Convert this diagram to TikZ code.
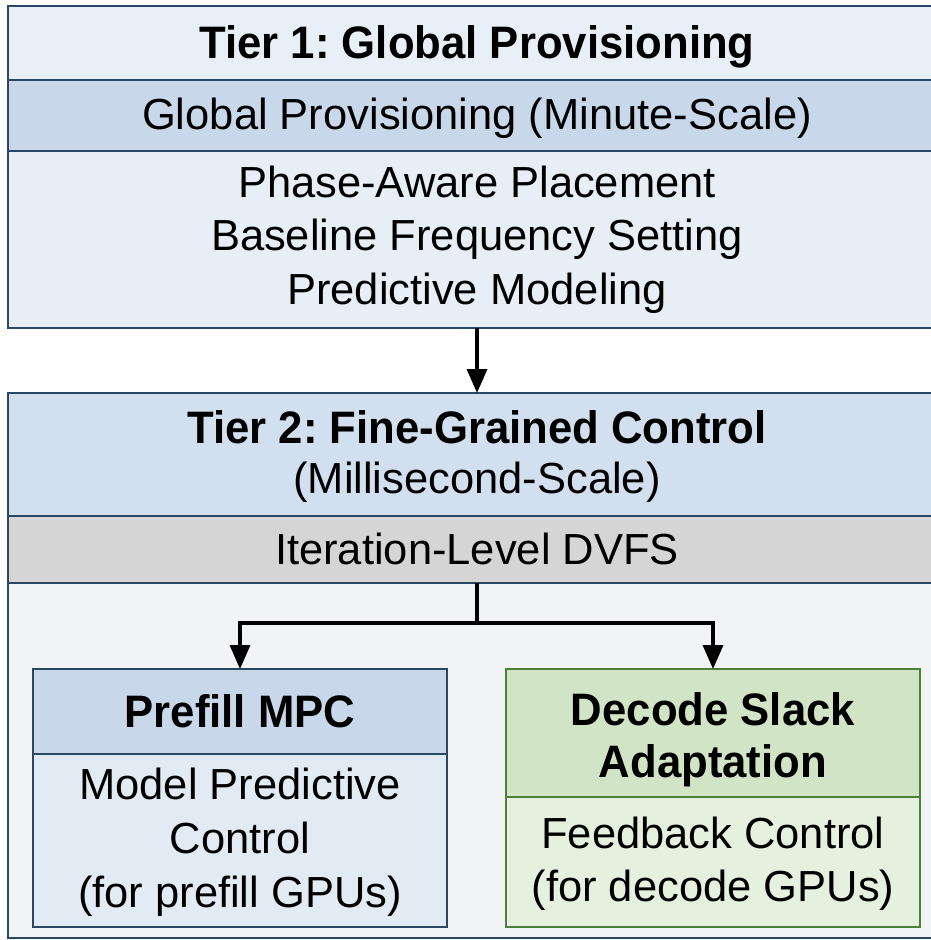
\documentclass[tikz,border=0pt]{standalone}
\usepackage{fontspec}
\setmainfont{Liberation Sans}
\newfontfamily\boldnarrow{Liberation Sans Bold}[FakeStretch=0.96]
\usetikzlibrary{arrows.meta}
\definecolor{bdr}{HTML}{2A4766}
\definecolor{gbdr}{HTML}{4E7F3A}
\definecolor{tonetitle}{HTML}{E9EFF6}
\definecolor{tonesub}{HTML}{C8D7E9}
\definecolor{tonebody}{HTML}{E7EEF6}
\definecolor{ttwotitle}{HTML}{D2DFEE}
\definecolor{ttwodvfs}{HTML}{D5D5D5}
\definecolor{ttwobody}{HTML}{F2F3F4}
\definecolor{prehead}{HTML}{C8D7EA}
\definecolor{prebody}{HTML}{E2EAF4}
\definecolor{dechead}{HTML}{D2E4C6}
\definecolor{decbody}{HTML}{E6F0DF}
\frenchspacing
\begin{document}
\begin{tikzpicture}[x=1pt,y=-1pt,
  cell/.style={draw=bdr, line width=2.5pt, anchor=north west, inner sep=0pt, outer sep=0pt},
  gcell/.style={draw=gbdr, line width=2.5pt, anchor=north west, inner sep=0pt, outer sep=0pt},
  txt/.style={anchor=base, inner sep=0pt, font=\fontsize{43.5}{52}\selectfont},
  btxt/.style={anchor=base, inner sep=0pt, font=\fontsize{45.5}{52}\selectfont\boldnarrow},
  conn/.style={line width=3.5pt, -{Triangle[length=24pt,width=20pt]}},
  seg/.style={line width=3.5pt}]
\useasboundingbox (0,0) rectangle (931,940);
\clip (0,0) rectangle (931,940);
\fill[white] (0,0) rectangle (931,940);
% Tier 1
\node[cell, fill=tonetitle, minimum width=940pt, minimum height=74pt] (t1a) at (8,6) {};
\node[cell, fill=tonesub, minimum width=940pt, minimum height=71pt] (t1b) at (8,80) {};
\node[cell, fill=tonebody, minimum width=940pt, minimum height=177pt] (t1c) at (8,151) {};
\node[btxt] (t1title) at (477,58) {Tier 1: Global Provisioning};
\node[txt] (t1sub) at (477,129.5) {Global Provisioning (Minute-Scale)};
\node[txt] (t1l1) at (477,197) {Phase-Aware Placement};
\node[txt] (t1l2) at (477,250.5) {Baseline Frequency Setting};
\node[txt] (t1l3) at (477,304) {Predictive Modeling};
% Tier 2
\node[cell, fill=ttwotitle, minimum width=940pt, minimum height=123pt] (t2a) at (8,393) {};
\node[cell, fill=ttwodvfs, minimum width=940pt, minimum height=67pt] (t2b) at (8,516) {};
\node[cell, fill=ttwobody, minimum width=940pt, minimum height=355pt] (t2c) at (8,583) {};
\node[btxt] (t2title) at (477,443) {Tier 2: Fine-Grained Control};
\node[txt] (t2sub) at (477,493) {(Millisecond-Scale)};
\node[txt] (t2dvfs) at (477,564) {Iteration-Level DVFS};
% Prefill
\node[cell, fill=prehead, minimum width=414pt, minimum height=85pt] (p1) at (33,669) {};
\node[cell, fill=prebody, minimum width=414pt, minimum height=173pt] (p2) at (33,754) {};
\node[btxt] (ptitle) at (240,727) {Prefill MPC};
\node[txt] (pl1) at (240,799) {Model Predictive};
\node[txt] (pl2) at (240,853) {Control};
\node[txt] (pl3) at (240,907) {(for prefill GPUs)};
% Decode
\node[gcell, fill=dechead, minimum width=414pt, minimum height=128pt] (d1) at (506,669) {};
\node[gcell, fill=decbody, minimum width=414pt, minimum height=130pt] (d2) at (506,797) {};
\node[btxt] (dt1) at (713,725) {Decode Slack};
\node[btxt] (dt2) at (713,777) {Adaptation};
\node[txt] (dl1) at (713,848) {Feedback Control};
\node[txt] (dl2) at (713,901) {(for decode GPUs)};
% connectors
\draw[conn] (t1c.south -| t1title) -- (t2a.north -| t1title);
\coordinate (split) at (477,623);
\draw[seg] (t2b.south -| split) -- (split);
\draw[conn] (split) -| (p1.north);
\draw[conn] (split) -| (d1.north);
\end{tikzpicture}
\end{document}
